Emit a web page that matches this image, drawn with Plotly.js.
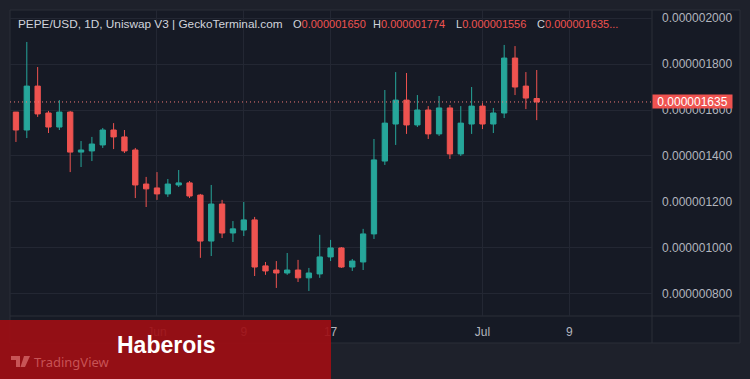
<!DOCTYPE html>
<html>
<head>
<meta charset="utf-8">
<script src="https://cdn.plot.ly/plotly-3.0.1.min.js"></script>
<style>
html,body{margin:0;padding:0;background:#1e212b;}
#chart{width:750px;height:379px;}
</style>
</head>
<body>
<div id="chart"></div>
<script>
// Daily candles, PEPE/USD (prices in units of 1e-9 USD)
const dates = ['2023-05-19','2023-05-20','2023-05-21','2023-05-22','2023-05-23','2023-05-24','2023-05-25','2023-05-26','2023-05-27','2023-05-28','2023-05-29','2023-05-30','2023-05-31',
'2023-06-01','2023-06-02','2023-06-03','2023-06-04','2023-06-05','2023-06-06','2023-06-07','2023-06-08','2023-06-09','2023-06-10','2023-06-11','2023-06-12','2023-06-13','2023-06-14','2023-06-15','2023-06-16','2023-06-17','2023-06-18','2023-06-19','2023-06-20','2023-06-21','2023-06-22','2023-06-23','2023-06-24','2023-06-25','2023-06-26','2023-06-27','2023-06-28','2023-06-29','2023-06-30',
'2023-07-01','2023-07-02','2023-07-03','2023-07-04','2023-07-05','2023-07-06'];
const openN  = [1591,1513,1704,1587,1526,1591,1417,1422,1448,1513,1483,1426,1278,1261,1235,1274,1283,1230,1030,1191,1065,1078,1122,922,904,891,904,870,887,961,1000,917,939,1061,1378,1539,1643,1535,1600,1496,1609,1409,1539,1617,1539,1587,1826,1704,1650];
const highN  = [1591,1896,1787,1596,1643,1596,1465,1483,1522,1543,1513,1435,1309,1330,1300,1339,1291,1235,1274,1209,1117,1200,1135,939,943,978,948,913,1057,1035,1004,952,1083,1474,1687,1765,1761,1665,1617,1661,1622,1617,1700,1630,1609,1883,1878,1765,1774];
const lowN   = [1461,1478,1570,1500,1513,1330,1352,1378,1435,1430,1413,1217,1178,1209,1222,1265,1217,957,965,1043,1026,1052,878,883,826,883,852,813,870,943,913,900,904,1039,1361,1448,1496,1526,1474,1487,1387,1400,1496,1517,1500,1565,1665,1604,1556];
const closeN = [1513,1704,1583,1526,1591,1417,1426,1452,1513,1483,1422,1274,1257,1235,1278,1283,1226,1030,1191,1065,1083,1122,917,900,891,904,870,891,961,1000,917,943,1061,1383,1543,1643,1535,1600,1496,1609,1409,1543,1617,1539,1587,1826,1700,1652,1635];
const UNIT = 1e-9;

const xTickVals = ['2023-06-01','2023-06-09','2023-06-17','2023-07-01','2023-07-09'];
const xTickText = ['Jun','9','17','Jul','9'];
const yTickVals = [800,1000,1200,1400,1600,1800,2000];

const headerName = 'PEPE/USD, 1D, Uniswap V3 | GeckoTerminal.com';
const headerOHLC = [['O','0.000001650'],['H','0.000001774'],['L','0.000001556'],['C','0.000001635...']];

const UP = '#26a69a', DOWN = '#ef5350';
const TXT = '#b2b5be';
const FONT = 'Liberation Sans, Arial, sans-serif';

const o = openN.map(v=>v*UNIT), h = highN.map(v=>v*UNIT), l = lowN.map(v=>v*UNIT), c = closeN.map(v=>v*UNIT);
const lastClose = c[c.length-1];

// pixel helpers for paper coords (plot area: x 10..652, y 10..316)
const W=750,H=379, L0=10, R0=652, T0=10, B0=316;
const px = x => (x-L0)/(R0-L0);
const py = y => (B0-y)/(B0-T0);

const trace = {
  type:'candlestick', x:dates, open:o, high:h, low:l, close:c,
  increasing:{line:{color:UP,width:1}, fillcolor:UP},
  decreasing:{line:{color:DOWN,width:1}, fillcolor:DOWN},
  whiskerwidth:0, hoverinfo:'skip', showlegend:false
};

const annotations = [];
annotations.push({xref:'paper',yref:'paper',x:px(16),y:py(24),xanchor:'left',yanchor:'middle',showarrow:false,
  text:headerName,font:{family:FONT,size:11.8,color:'#d1d4dc'}});
const ohlcX = [291,371,454,535];
headerOHLC.forEach((p,i)=>{
  annotations.push({xref:'paper',yref:'paper',x:px(ohlcX[i]),y:py(24),xanchor:'left',yanchor:'middle',showarrow:false,
    text:p[0]+'<span style="fill:'+DOWN+'">'+p[1]+'</span>',font:{family:FONT,size:11,color:'#d1d4dc'}});
});
// last price label
annotations.push({xref:'paper',yref:'y',x:px(652),y:lastClose,xanchor:'left',yanchor:'middle',showarrow:false,
  text:lastClose.toFixed(9),bgcolor:DOWN,width:79,height:13,borderpad:0,align:'center',
  font:{family:FONT,size:12,color:'#ffffff'}});
// watermark overlay texts
annotations.push({xref:'paper',yref:'paper',x:px(166),y:py(345),xanchor:'center',yanchor:'middle',showarrow:false,
  text:'<b>Haberois</b>',font:{family:FONT,size:23,color:'#ffffff'}});
annotations.push({xref:'paper',yref:'paper',x:px(32),y:py(362),xanchor:'left',yanchor:'middle',showarrow:false,
  text:'TradingView',font:{family:'Noto Sans, sans-serif',size:13,color:'rgba(235,130,130,0.6)'}});

const shapes = [
  // chart pane
  {type:'rect',xref:'paper',yref:'paper',x0:px(10),x1:px(740),y0:py(10),y1:py(343),
   fillcolor:'#161a25',line:{color:'#2a2e39',width:1},layer:'below'},
  // separators
  {type:'line',xref:'paper',yref:'paper',x0:px(652),x1:px(652),y0:py(10),y1:py(343),line:{color:'#2a2e39',width:1},layer:'below'},
  {type:'line',xref:'paper',yref:'paper',x0:px(10),x1:px(740),y0:py(316),y1:py(316),line:{color:'#2a2e39',width:1},layer:'below'},
  // last price dotted line
  {type:'line',xref:'paper',yref:'y',x0:0,x1:1,y0:lastClose,y1:lastClose,line:{color:'#f07a78',width:1,dash:'1px,3px'},layer:'above'},
  // red watermark box
  {type:'rect',xref:'paper',yref:'paper',x0:px(0),x1:px(331),y0:py(320),y1:py(379),
   fillcolor:'rgba(158,14,20,0.92)',line:{width:0},layer:'above'},
  // TradingView logo (simplified)
  {type:'path',xref:'paper',yref:'paper',
   path:'M '+px(11)+','+py(356)+' L '+px(20)+','+py(356)+' L '+px(20)+','+py(367)+' L '+px(16)+','+py(367)+' L '+px(16)+','+py(360)+' L '+px(11)+','+py(360)+' Z',
   fillcolor:'rgba(235,130,130,0.6)',line:{width:0},layer:'above'},
  {type:'path',xref:'paper',yref:'paper',
   path:'M '+px(24)+','+py(356)+' L '+px(30)+','+py(356)+' L '+px(25)+','+py(367)+' L '+px(20.5)+','+py(367)+' Z',
   fillcolor:'rgba(235,130,130,0.6)',line:{width:0},layer:'above'}
];

const layout = {
  width:W,height:H,
  paper_bgcolor:'#1e212b', plot_bgcolor:'rgba(0,0,0,0)',
  margin:{l:L0,r:W-R0,t:T0,b:H-B0,pad:0},
  xaxis:{type:'date',range:['2023-05-18 10:50','2023-07-16 15:00'],
    tickvals:xTickVals,ticktext:xTickText,showgrid:true,gridcolor:'#232733',gridwidth:1,
    zeroline:false,showline:false,ticks:'',ticklabelstandoff:7,
    tickfont:{family:FONT,size:12,color:TXT},rangeslider:{visible:false},fixedrange:true},
  yaxis:{side:'right',range:[704*UNIT,2035*UNIT],tickvals:yTickVals.map(v=>v*UNIT),tickformat:'.9f',
    showgrid:true,gridcolor:'#232733',gridwidth:1,zeroline:false,showline:false,ticks:'',ticklabelstandoff:9,
    tickfont:{family:FONT,size:12,color:TXT},fixedrange:true},
  shapes:shapes, annotations:annotations, showlegend:false, hovermode:false
};

Plotly.newPlot('chart',[trace],layout,{displayModeBar:false,staticPlot:true});
</script>
</body>
</html>
